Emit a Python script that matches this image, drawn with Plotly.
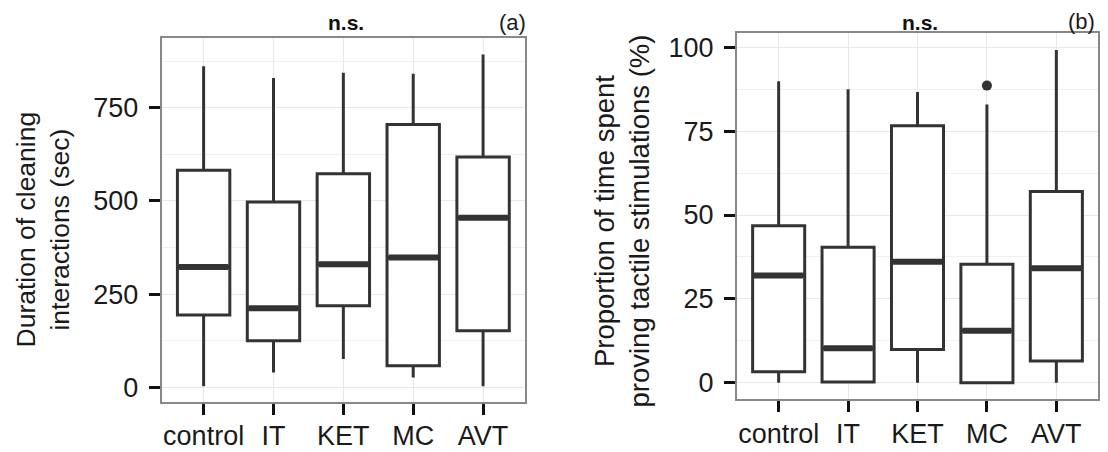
import plotly.graph_objects as go

# The page body has a default 8px margin, so the figure is drawn 8px right/down
# of the window corner; all layout pixel positions below are window positions.
OFF = 8
W, H = 1108 - OFF, 452 - OFF

categories = ["control", "IT", "KET", "MC", "AVT"]
positions = [1, 2, 3, 4, 5]

# Panel (a): duration of cleaning interactions (sec)
a_low = [3, 40, 76, 26, 3]
a_q1 = [194, 125, 219, 58, 152]
a_med = [323, 212, 330, 348, 455]
a_q3 = [582, 497, 573, 705, 618]
a_high = [861, 830, 844, 841, 893]

# Panel (b): proportion of time spent providing tactile stimulations (%)
b_low = [0, 0, 0, 0, 0]
b_q1 = [3.3, 0.2, 9.9, 0.0, 6.5]
b_med = [32.0, 10.3, 36.1, 15.5, 34.1]
b_q3 = [46.8, 40.4, 76.6, 35.3, 57.0]
b_high = [89.9, 87.5, 86.7, 83.0, 99.2]
b_out_pos = [4]
b_out_val = [88.6]

a_ticks = [0, 250, 500, 750]
a_minor = [125, 375, 625, 875]
b_ticks = [0, 25, 50, 75, 100]
b_minor = [12.5, 37.5, 62.5, 87.5]

BOXW = 0.75
DARK = "#333333"
TICKFONT = dict(family="Liberation Sans, Arial, sans-serif", size=27, color="#1a1a1a")

fig = go.Figure()


def add_panel(xa, ya, low, q1, med, q3, high):
    fig.add_trace(go.Box(
        x=positions, q1=q1, median=med, q3=q3, lowerfence=low, upperfence=high,
        width=BOXW, whiskerwidth=0, boxpoints=False,
        line=dict(color=DARK, width=3), fillcolor="white",
        xaxis=xa, yaxis=ya, showlegend=False, hoverinfo="skip"))
    mx, my = [], []
    for p, m in zip(positions, med):
        mx += [p - BOXW / 2 + 0.02, p + BOXW / 2 - 0.02, None]
        my += [m, m, None]
    fig.add_trace(go.Scatter(
        x=mx, y=my, mode="lines", line=dict(color=DARK, width=6),
        xaxis=xa, yaxis=ya, showlegend=False, hoverinfo="skip"))


add_panel("x", "y", a_low, a_q1, a_med, a_q3, a_high)
add_panel("x2", "y2", b_low, b_q1, b_med, b_q3, b_high)
fig.add_trace(go.Scatter(
    x=b_out_pos, y=b_out_val, mode="markers",
    marker=dict(color=DARK, size=10), xaxis="x2", yaxis="y2",
    showlegend=False, hoverinfo="skip"))


def px_dom(left, right):
    return [(left - OFF) / W, (right - OFF) / W]


def py_dom(top, bottom):
    return [(H - (bottom - OFF)) / H, (H - (top - OFF)) / H]


def px(x):
    return (x - OFF) / W


def py(y):
    return (H - (y - OFF)) / H


common_x = dict(
    tickmode="array", tickvals=positions, ticktext=categories,
    ticks="outside", ticklen=11, tickwidth=3, tickcolor="#111111",
    showline=True, mirror=True, linecolor="#888888", linewidth=2,
    showgrid=True, gridcolor="#e8e8e8", gridwidth=1, zeroline=False,
    tickfont=TICKFONT, ticklabelstandoff=-2, range=[0.4, 5.6], fixedrange=True)

common_y = dict(
    tickmode="array", ticks="outside", ticklen=11, tickwidth=3, tickcolor="#111111",
    showline=True, mirror=True, linecolor="#888888", linewidth=2,
    showgrid=True, gridcolor="#e8e8e8", gridwidth=1, zeroline=False,
    tickfont=TICKFONT, ticklabelstandoff=5, fixedrange=True)

fig.update_layout(
    width=W, height=H, margin=dict(l=0, r=0, t=0, b=0),
    paper_bgcolor="white", plot_bgcolor="white",
    xaxis=dict(domain=px_dom(161.7, 525), anchor="y", **common_x),
    yaxis=dict(domain=py_dom(38.3, 401.7), anchor="x", range=[-38.6, 936.2],
               tickvals=a_ticks,
               minor=dict(tickvals=a_minor, showgrid=True, gridcolor="#f0f0f0", gridwidth=1, ticks=""),
               **common_y),
    xaxis2=dict(domain=px_dom(737, 1098), anchor="y2", **common_x),
    yaxis2=dict(domain=py_dom(33.3, 399.3), anchor="x2", range=[-4.95, 104.2],
                tickvals=b_ticks,
                minor=dict(tickvals=b_minor, showgrid=True, gridcolor="#f0f0f0", gridwidth=1, ticks=""),
                **common_y),
)

TITLEFONT = dict(family="Liberation Sans, Arial, sans-serif", color="#1a1a1a")
fig.add_annotation(text="Duration of cleaning<br>interactions (sec)", textangle=-90,
                   xref="paper", yref="paper", x=px(42.5), y=py(230),
                   xanchor="center", yanchor="middle", showarrow=False,
                   font=dict(size=26.5, **TITLEFONT))
fig.add_annotation(text="Proportion of time spent<br>proving tactile stimulations (%)", textangle=-90,
                   xref="paper", yref="paper", x=px(621.5), y=py(221),
                   xanchor="center", yanchor="middle", showarrow=False,
                   font=dict(size=27.5, **TITLEFONT))

NSFONT = dict(family="Liberation Sans, Arial, sans-serif", size=21, color="#111111")
fig.add_annotation(text="<b>n.s.</b>", xref="paper", yref="paper", x=px(346), y=py(22),
                   xanchor="center", yanchor="middle", showarrow=False, font=NSFONT)
fig.add_annotation(text="<b>n.s.</b>", xref="paper", yref="paper", x=px(920), y=py(22),
                   xanchor="center", yanchor="middle", showarrow=False, font=NSFONT)

LABFONT = dict(family="Liberation Sans, Arial, sans-serif", size=22, color="#1a1a1a")
fig.add_annotation(text="(a)", xref="paper", yref="paper", x=px(528), y=py(22),
                   xanchor="right", yanchor="middle", showarrow=False, font=LABFONT)
fig.add_annotation(text="(b)", xref="paper", yref="paper", x=px(1097), y=py(21),
                   xanchor="right", yanchor="middle", showarrow=False, font=LABFONT)

fig.write_html("out.html")
